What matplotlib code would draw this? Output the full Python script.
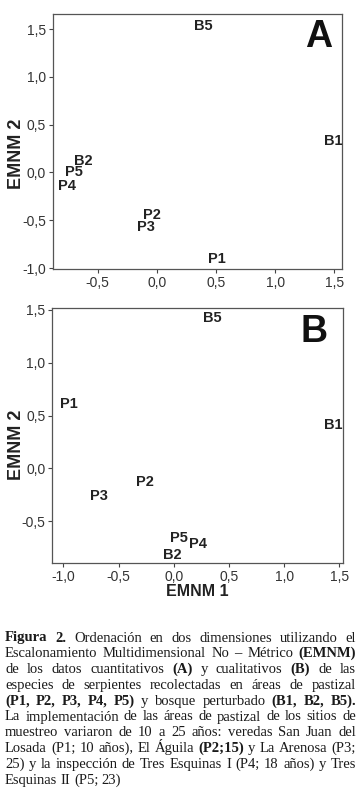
import matplotlib
matplotlib.use("Agg")
import matplotlib.pyplot as plt
from matplotlib.ticker import FuncFormatter

# datos (coordenadas EMNM)
sitios_a = ["B5", "B1", "B2", "P5", "P4", "P2", "P3", "P1"]
x_a = [0.39, 1.49, -0.62, -0.70, -0.76, -0.04, -0.09, 0.51]
y_a = [1.53, 0.33, 0.12, 0.00, -0.14, -0.45, -0.57, -0.91]

sitios_b = ["B5", "P1", "B1", "P2", "P3", "P5", "P4", "B2"]
x_b = [0.35, -0.95, 1.45, -0.26, -0.68, 0.05, 0.22, -0.01]
y_b = [1.42, 0.61, 0.41, -0.13, -0.26, -0.66, -0.72, -0.82]

ticks_x_a = [-0.5, 0.0, 0.5, 1.0, 1.5]
ticks_y_a = [-1.0, -0.5, 0.0, 0.5, 1.0, 1.5]
ticks_x_b = [-1.0, -0.5, 0.0, 0.5, 1.0, 1.5]
ticks_y_b = [-0.5, 0.0, 0.5, 1.0, 1.5]

# texto de la leyenda, linea por linea (** marca negrita)
leyenda = [
    "**Figura 2.** Ordenación en dos dimensiones utilizando el",
    "Escalonamiento Multidimensional No – Métrico **(EMNM)**",
    "de los datos cuantitativos **(A)** y cualitativos **(B)** de las",
    "especies de serpientes recolectadas en áreas de pastizal",
    "**(P1, P2, P3, P4, P5)** y bosque perturbado **(B1, B2, B5).**",
    "La implementación de las áreas de pastizal de los sitios de",
    "muestreo variaron de 10 a 25 años: veredas San Juan del",
    "Losada (P1; 10 años), El Águila **(P2;15)** y La Arenosa (P3;",
    "25) y la inspección de Tres Esquinas I (P4; 18 años) y Tres",
    "Esquinas II (P5; 23)",
]

W, H = 364, 798
fig = plt.figure(figsize=(W / 100, H / 100), dpi=100)
sans = "Liberation Sans"
coma = FuncFormatter(lambda v, p: f"{v:.1f}".replace(".", ","))


def panel(rect, xs, ys, nombres, xl, yl, tx, ty, letra, pos_letra, pos_ylab, xlabel):
    ax = fig.add_axes(rect)
    for n, x, y in zip(nombres, xs, ys):
        ax.text(x, y, n, ha="center", va="center", fontsize=10.5,
                fontweight="bold", family=sans, color="#222222")
    ax.set_xlim(xl)
    ax.set_ylim(yl)
    ax.set_xticks(tx)
    ax.set_yticks(ty)
    ax.xaxis.set_major_formatter(coma)
    ax.yaxis.set_major_formatter(coma)
    ax.tick_params(labelsize=10, length=3, width=0.8, color="#444444",
                   labelcolor="#333333", pad=2)
    for lab in ax.get_xticklabels() + ax.get_yticklabels():
        lab.set_family(sans)
    for s in ax.spines.values():
        s.set_color("#555555")
        s.set_linewidth(0.9)
    ax.text(pos_letra[0], pos_letra[1], letra, transform=ax.transAxes,
            ha="right", va="center", fontsize=27, fontweight="bold",
            family=sans, color="#111111")
    ax.set_ylabel("EMNM 2", fontsize=13, fontweight="bold", family=sans,
                  color="#222222")
    ax.yaxis.set_label_coords(pos_ylab[0], pos_ylab[1])
    if xlabel:
        ax.set_xlabel("EMNM 1", fontsize=11.5, fontweight="bold", family=sans,
                      color="#222222", labelpad=0)
    return ax


panel([53 / W, 1 - 269 / H, 289 / W, 255 / H], x_a, y_a, sitios_a,
      (-0.877, 1.565), (-1.01, 1.657), ticks_x_a, ticks_y_a, "A",
      (0.965, 0.91), (-0.097, 0.45), False)
panel([52.3 / W, 1 - 562.7 / H, 290.7 / W, 254.4 / H], x_b, y_b, sitios_b,
      (-1.10, 1.534), (-0.895, 1.516), ticks_x_b, ticks_y_b, "B",
      (0.948, 0.905), (-0.094, 0.463), True)

# leyenda justificada
renderer = fig.canvas.get_renderer()
x0, x1 = 5, 356
y_ini, paso = 641.5, 15.8
serif = "Liberation Serif"
for i, linea in enumerate(leyenda):
    partes = linea.split("**")
    palabras = []
    for k, trozo in enumerate(partes):
        for w in trozo.split():
            palabras.append((w, k % 2 == 1))
    textos = []
    for w, b in palabras:
        t = fig.text(0, 0, w, fontsize=10.5, family=serif,
                     fontweight="bold" if b else "normal", color="#1a1a1a",
                     va="baseline", ha="left", transform=None)
        textos.append(t)
    anchos = [t.get_window_extent(renderer).width for t in textos]
    if i < len(leyenda) - 1:
        hueco = (x1 - x0 - sum(anchos)) / (len(anchos) - 1)
    else:
        hueco = 3.5
    x = x0
    y = H - (y_ini + i * paso)
    for t, a in zip(textos, anchos):
        t.set_position((x, y))
        x += a + hueco

fig.savefig("out.png", dpi=100)
